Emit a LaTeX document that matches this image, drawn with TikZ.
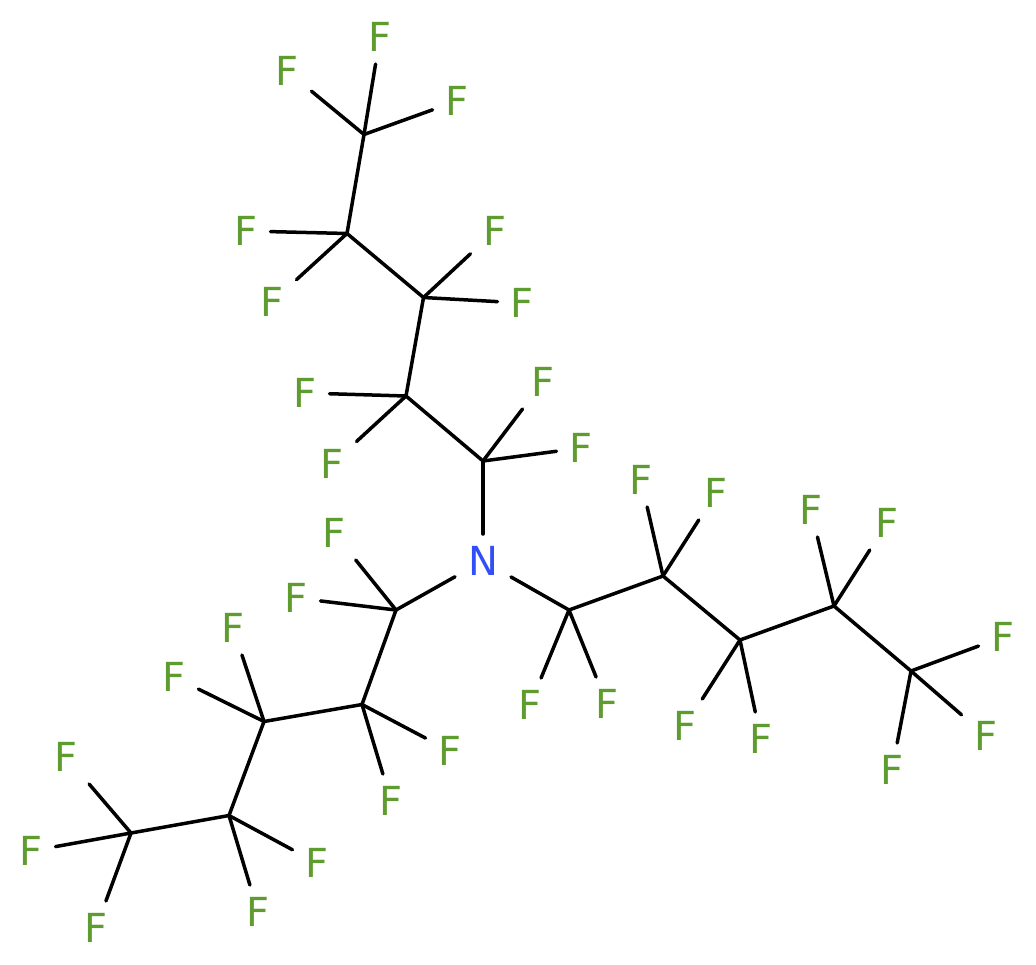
\documentclass[tikz,border=0pt]{standalone}
\usepackage{fontspec}
\setmainfont{DejaVu Sans}
\definecolor{fgreen}{HTML}{5F9C2F}
\definecolor{nblue}{HTML}{304FF7}
\tikzset{x=1pt,y=-1pt,
 fluor/.style={rectangle,inner sep=0pt,minimum width=49pt,minimum height=54pt,outer sep=0pt,text=fgreen,font=\fontsize{40}{40}\selectfont},
 nitro/.style={rectangle,inner sep=0pt,minimum width=56pt,minimum height=54pt,outer sep=0pt,text=nblue,font=\fontsize{40}{40}\selectfont},
 bond/.style={line width=3.5pt,line cap=round,black}}
\begin{document}
\begin{tikzpicture}
\useasboundingbox (0,0) rectangle (1036,964);
\fill[white] (0,0) rectangle (1036,964);
\node[nitro] (n) at (483,561) {N};
\foreach \nm/\px/\py in {a1/483/461,a2/406/396,a3/423.5/297.5,a4/347/233.5,a5/364/134.5,
 b1/569/610,b2/663/576,b3/740/640,b4/834/606,b5/911/671,
 c1/396/610,c2/362/704.5,c3/264/721.5,c4/229/815.5,c5/131/833}
 {\coordinate (\nm) at (\px,\py);}
\foreach \nm/\px/\py in {a51/380/37,a52/287/71,a53/457/101,a41/246/231,a42/272/302,a31/495/231,a32/522/303,a21/305/393,a22/332/464,a11/543/382,a12/581/448,
 b11/530/705,b12/607/704,b21/641/480,b22/716/493,b31/685/726,b32/761/739,b41/811/510,b42/887/523,b51/1003/637,b52/986/736,b53/892/770,
 c11/334/533,c12/296/598,c21/450/751,c22/391/801,c31/233/628,c32/174/677,c41/317/863,c42/258/912,c51/66/757,c52/31/851,c53/96/928}
 {\node[fluor] (\nm) at (\px,\py) {F};}
\foreach \s/\t in {n/a1,a1/a2,a2/a3,a3/a4,a4/a5,n/b1,b1/b2,b2/b3,b3/b4,b4/b5,n/c1,c1/c2,c2/c3,c3/c4,c4/c5,
 a5/a51,a5/a52,a5/a53,a4/a41,a4/a42,a3/a31,a3/a32,a2/a21,a2/a22,a1/a11,a1/a12,
 b1/b11,b1/b12,b2/b21,b2/b22,b3/b31,b3/b32,b4/b41,b4/b42,b5/b51,b5/b52,b5/b53,
 c1/c11,c1/c12,c2/c21,c2/c22,c3/c31,c3/c32,c4/c41,c4/c42,c5/c51,c5/c52,c5/c53}
 {\draw[bond] (\s) -- (\t);}
\end{tikzpicture}
\end{document}
